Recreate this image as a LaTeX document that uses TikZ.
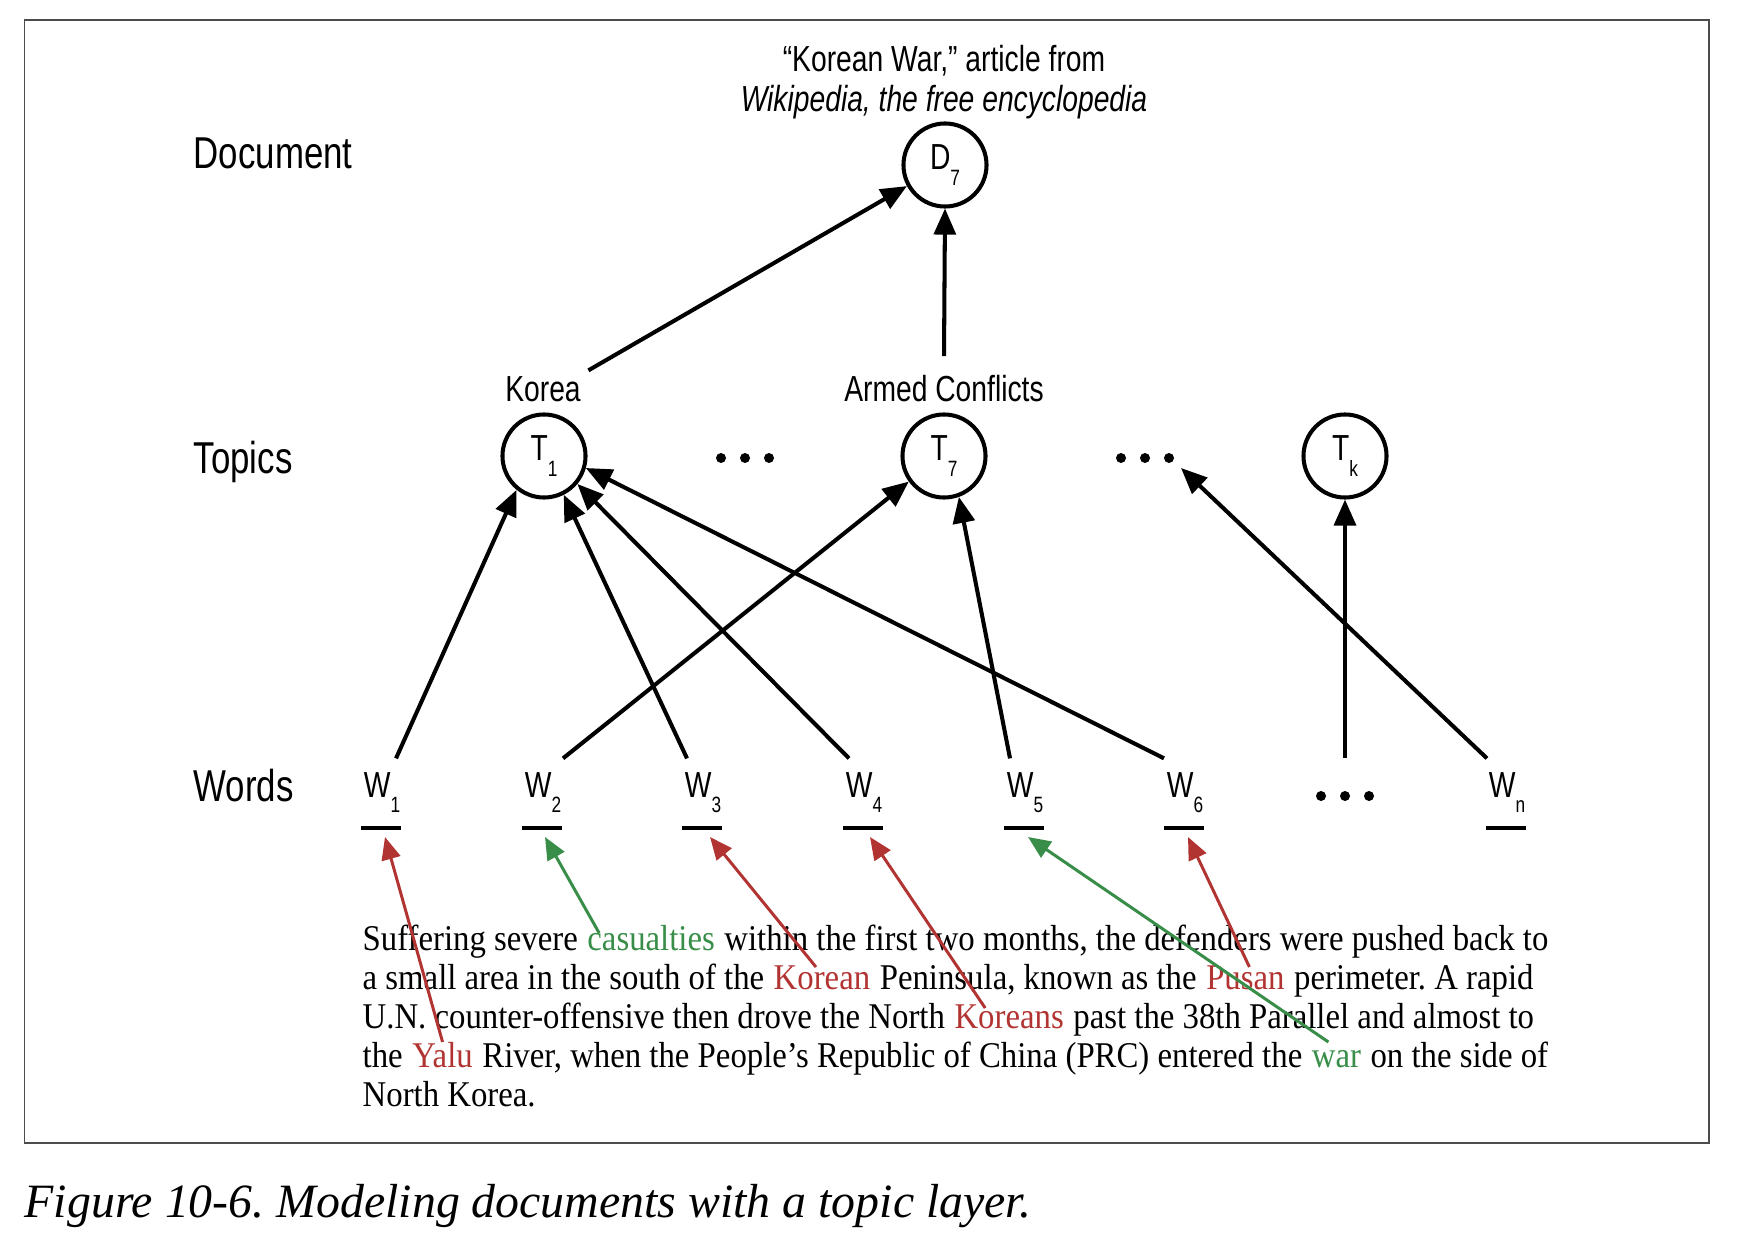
\documentclass[tikz,border=0pt]{standalone}
\usepackage{fontspec}
\setmainfont{Liberation Serif}
\newfontfamily\labelfont[FakeStretch=0.78]{Liberation Sans}
\newfontfamily\bodyfont[FakeStretch=0.905]{Liberation Serif}
\usetikzlibrary{arrows.meta,calc}

\definecolor{wordred}{RGB}{178,52,50}
\definecolor{wordgreen}{RGB}{56,142,72}
\newcommand{\idx}[1]{\raisebox{-4.3pt}{\fontsize{6.3}{6.3}\selectfont #1}}
\newcommand{\wsp}{2.33pt}
\frenchspacing

\tikzset{
  big/.style={font=\labelfont\fontsize{12.7}{15}\selectfont, anchor=base west, inner sep=0},
  lbl/.style={font=\labelfont\fontsize{10.3}{12}\selectfont, inner sep=0},
  topic/.style={lbl, circle, draw, line width=1.15pt, minimum size=0.83cm},
  word/.style={lbl, anchor=base},
  txt/.style={font=\bodyfont\fontsize{10.3}{12}\selectfont, anchor=base west, inner sep=0},
  link/.style={line width=1.15pt, -{Triangle[length=7.4pt,width=6.2pt]}},
  hint/.style={line width=0.85pt, -{Triangle[length=6.4pt,width=5.4pt]}},
  uline/.style={line width=1.15pt},
  frame/.style={draw=black!70, line width=0.5pt},
  threedots/.pic={\fill (-24,0) circle[radius=0.05cm] (0,0) circle[radius=0.05cm] (24,0) circle[radius=0.05cm];}
}

\begin{document}
\begin{tikzpicture}[x=0.01cm, y=-0.01cm]
  \useasboundingbox (0,0) rectangle (1740,1246);
  \draw[frame] (24.5,20) rectangle (1709,1143);

  % row names
  \node[big] (document) at (193,169) {Document};
  \node[big] (topics) at (193,473) {Topics};
  \node[big] (words) at (193,801) {Words};

  % document
  \node[lbl, anchor=base] (source) at (944,72) {“Korean War,” article from};
  \node[lbl, anchor=base] (sourcename) at (944,112) {\itshape Wikipedia, the free encyclopedia};
  \node[topic] (d7) at (945,165) {D\idx{7}};

  % topics
  \node[topic] (t1) at (544,456) {T\idx{1}};
  \node[topic] (t7) at (944,456) {T\idx{7}};
  \node[topic] (tk) at (1345,456) {T\idx{k}};
  \node[lbl, anchor=base] (korea) at (543,402) {Korea};
  \node[lbl, anchor=base] (conflicts) at (944,402) {Armed Conflicts};
  \coordinate (dots1) at (745,458);
  \coordinate (dots2) at (1145,458);
  \pic at (dots1) {threedots};
  \pic at (dots2) {threedots};

  % words
  \node[word] (w1) at (382,797) {W\idx{1}};
  \node[word] (w2) at (543,797) {W\idx{2}};
  \node[word] (w3) at (703,797) {W\idx{3}};
  \node[word] (w4) at (864,797) {W\idx{4}};
  \node[word] (w5) at (1025,797) {W\idx{5}};
  \node[word] (w6) at (1185,797) {W\idx{6}};
  \node[word] (wn) at (1507,797) {W\idx{n}};
  \coordinate (dots3) at (1345,796);
  \pic at (dots3) {threedots};

  \draw[uline] ($(w1.base west)+(-2,31)$) -- ($(w1.base east)+(0,31)$);
  \draw[uline] ($(w2.base west)+(-2,31)$) -- ($(w2.base east)+(0,31)$);
  \draw[uline] ($(w3.base west)+(-2,31)$) -- ($(w3.base east)+(0,31)$);
  \draw[uline] ($(w4.base west)+(-2,31)$) -- ($(w4.base east)+(0,31)$);
  \draw[uline] ($(w5.base west)+(-2,31)$) -- ($(w5.base east)+(0,31)$);
  \draw[uline] ($(w6.base west)+(-2,31)$) -- ($(w6.base east)+(0,31)$);
  \draw[uline] ($(wn.base west)+(-2,31)$) -- ($(wn.base east)+(0,31)$);

  % the article text
  \node[txt] (l1a) at (362,950) {Suffering severe};
  \node[txt, text=wordgreen] (cas) at ([xshift=\wsp]l1a.base east) {casualties};
  \node[txt] (l1b) at (cas.base east) {\ within the first two months, the defenders were pushed back to};
  \node[txt] (l2a) at (362,989) {a small area in the south of the};
  \node[txt, text=wordred] (korean) at ([xshift=\wsp]l2a.base east) {Korean};
  \node[txt] (l2b) at (korean.base east) {\ Peninsula, known as the};
  \node[txt, text=wordred] (pusan) at ([xshift=\wsp]l2b.base east) {Pusan};
  \node[txt] (l2c) at (pusan.base east) {\ perimeter. A rapid};
  \node[txt] (l3a) at (362,1028) {U.N. counter-offensive then drove the North};
  \node[txt, text=wordred] (koreans) at ([xshift=\wsp]l3a.base east) {Koreans};
  \node[txt] (l3b) at (koreans.base east) {\ past the 38th Parallel and almost to};
  \node[txt] (l4a) at (362,1067) {the};
  \node[txt, text=wordred] (yalu) at ([xshift=\wsp]l4a.base east) {Yalu};
  \node[txt] (l4b) at (yalu.base east) {\ River, when the People’s Republic of China (PRC) entered the};
  \node[txt, text=wordgreen] (war) at ([xshift=\wsp]l4b.base east) {war};
  \node[txt] (l4c) at (war.base east) {\ on the side of};
  \node[txt] (l5a) at (362,1106) {North Korea.};

  % words to topics
  \draw[link] ([shift={(14,-13)}]w1.north) -- (t1.231);
  \draw[link] ([shift={(20,-13)}]w2.north) -- (t7.216);
  \draw[link] ([shift={(-16,-13)}]w3.north) -- (t1.297);
  \draw[link] ([shift={(-15,-13)}]w4.north) -- (t1.320);
  \draw[link] ([shift={(-15,-13)}]w5.north) -- (t7.290);
  \draw[link] ([shift={(-21,-13)}]w6.north) -- (t1.344);
  \draw[link] ([shift={(0,-38)}]dots3) -- (tk.south);
  \draw[link] ([shift={(-20,-13)}]wn.north) -- ([shift={(36,10)}]dots2);

  % topics to document
  \draw[link] ([shift={(7,-6)}]korea.north east) -- (d7.209);
  \draw[link] ([shift={(0,-19)}]conflicts.north) -- (d7.south);

  % text to words
  \draw[hint, wordred] ([shift={(0,-25)}]yalu.base) -- ([shift={(3,40)}]w1.base);
  \draw[hint, wordgreen] ([shift={(-52,-17)}]cas.base) -- ([shift={(2,40)}]w2.base);
  \draw[hint, wordred] ([shift={(-6,-22)}]korean.base) -- ([shift={(7,40)}]w3.base);
  \draw[hint, wordred] ([shift={(-24,-20)}]koreans.base) -- ([shift={(6,40)}]w4.base);
  \draw[hint, wordgreen] ([shift={(-8,-25)}]war.base) -- ([shift={(3,40)}]w5.base);
  \draw[hint, wordred] ([shift={(4,-22)}]pusan.base) -- ([shift={(3,40)}]w6.base);

  \node[font=\itshape\fontsize{13.6}{16}\selectfont, anchor=base west, inner sep=0] (caption) at (24,1217) {Figure 10-6. Modeling documents with a topic layer.};
\end{tikzpicture}
\end{document}
